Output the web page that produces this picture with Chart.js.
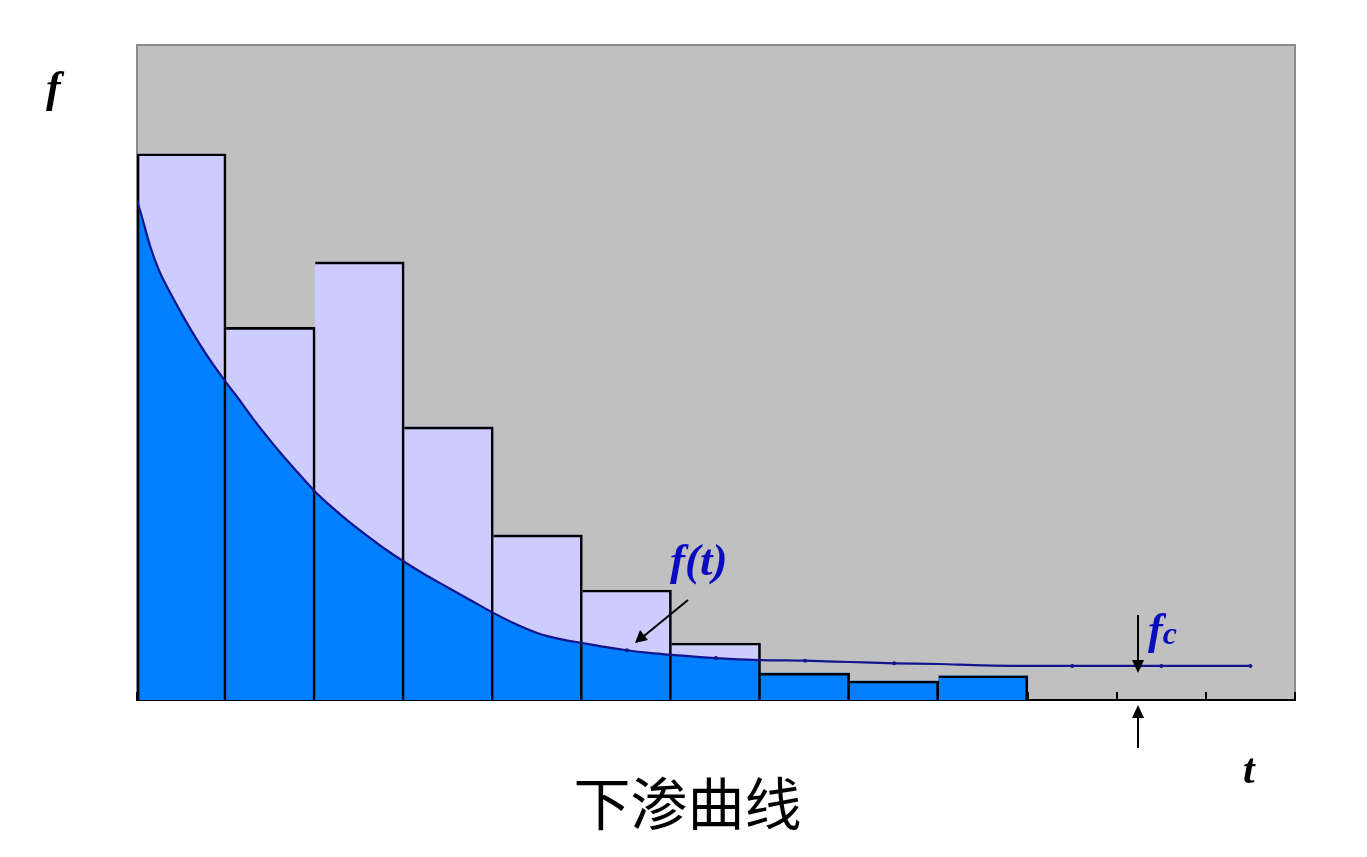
<!DOCTYPE html>
<html>
<head>
<meta charset="utf-8">
<script src="https://cdn.jsdelivr.net/npm/chart.js@4/dist/chart.umd.min.js"></script>
<style>
  body { margin: 0; background: #fff; }
  #wrap { position: relative; width: 1367px; height: 857px; overflow: hidden; }
  #chart { position: absolute; left: 0; top: 0; }
  .lbl { position: absolute; font-family: "Liberation Serif", "DejaVu Serif", serif; font-weight: bold; font-style: italic; line-height: 1; white-space: nowrap; }
  #title { position: absolute; left: 4px; width: 1367px; top: 772px; text-align: center; font-family: "Noto Sans CJK SC", sans-serif; font-size: 57px; line-height: 1; color: #000; }
  svg { position: absolute; left: 0; top: 0; pointer-events: none; }
</style>
</head>
<body>
<div id="wrap">
  <canvas id="chart" width="1367" height="857"></canvas>
  <div class="lbl" style="left:46px; top:66px; font-size:44px; color:#000;">f</div>
  <div class="lbl" style="left:1243px; top:748px; font-size:42px; color:#000;">t</div>
  <div class="lbl" style="left:670px; top:538px; font-size:45px; color:#0a0ac0;">f(t)</div>
  <div class="lbl" style="left:1148px; top:608px; font-size:44px; color:#0a0ac0;">f<span style="font-size:32px;">c</span></div>
  <div id="title">下渗曲线</div>
  <svg width="1367" height="857">
    <line x1="688" y1="600" x2="644" y2="636" stroke="#000" stroke-width="2"/>
    <polygon points="635,643 640,630 648,640" fill="#000"/>
    <line x1="1138" y1="615" x2="1138" y2="662" stroke="#000" stroke-width="2"/>
    <polygon points="1132,660 1144,660 1138,673" fill="#000"/>
    <line x1="1138" y1="716" x2="1138" y2="748" stroke="#000" stroke-width="2"/>
    <polygon points="1132,718 1144,718 1138,705" fill="#000"/>
  </svg>
</div>
<script>
// rainfall intensity per period (bars), t = 0..10
let rainT = [0.5, 1.5, 2.5, 3.5, 4.5, 5.5, 6.5, 7.5, 8.5, 9.5]
let rain = [83.4, 56.9, 66.9, 41.7, 25.2, 16.8, 8.7, 4.1, 2.9, 3.7]

// infiltration capacity curve f(t)
let curveT = [0, 0.05, 0.15, 0.25, 0.4, 0.55, 0.7, 0.85, 1.0, 1.15, 1.3, 1.45, 1.6, 1.8, 2.0, 2.2, 2.4, 2.6, 2.8, 3.0,
  3.25, 3.5, 3.75, 4.0, 4.25, 4.5, 4.75, 5.0, 5.25, 5.5, 5.75, 6.0, 6.5, 7.0, 7.5, 8.0, 8.5, 9.0, 9.5, 10.5, 11.5, 12.5]
let curveF = [76.3, 74.0, 69.2, 65.5, 61.5, 57.8, 54.4, 51.3, 48.5, 45.8, 43.0, 40.4, 37.9, 34.8, 31.8, 29.3, 27.0, 24.9, 22.9, 21.1,
  19.0, 17.1, 15.2, 13.3, 11.6, 10.2, 9.3, 8.7, 8.1, 7.6, 7.2, 6.9, 6.4, 6.1, 6.0, 5.8, 5.6, 5.5, 5.3, 5.2, 5.2, 5.2]
// points drawn with a small marker
let markedT = [5.5, 6.5, 7.5, 8.5, 10.5, 11.5, 12.5]

// period where rain exceeds capacity (blue area follows the curve)
let excessEnd = 7

let rainPts = rainT.map((t, i) => ({x: t, y: rain[i]}))
let curvePts = curveT.map((t, i) => ({x: t, y: curveF[i]}))
let fillPts = curvePts.filter(p => p.x <= excessEnd)

const plotBg = {
    id: 'plotBg',
    beforeDraw(chart){
        const {ctx, chartArea: a} = chart
        ctx.save()
        ctx.fillStyle = '#c0c0c0'
        ctx.fillRect(a.left, a.top, a.right - a.left, a.bottom - a.top)
        ctx.strokeStyle = '#8a8a8a'
        ctx.lineWidth = 2
        ctx.strokeRect(a.left, a.top, a.right - a.left, a.bottom - a.top)
        ctx.restore()
    }
}

new Chart(document.getElementById('chart'), {
    type: 'bar',
    data: {
        datasets: [
            {
                type: 'line',
                label: 'f(t)',
                data: curvePts,
                borderColor: '#14148c',
                borderWidth: 2.2,
                cubicInterpolationMode: 'monotone',
                fill: false,
                pointRadius: curvePts.map(p => markedT.includes(p.x) ? 2 : 0),
                pointBackgroundColor: '#14148c',
                pointBorderWidth: 0,
                order: 0
            },
            {
                label: 'outline',
                data: rainPts,
                backgroundColor: 'rgba(0,0,0,0)',
                borderColor: '#000',
                borderSkipped: false,
                borderWidth: c => ({top: 2, right: 2, bottom: 0, left: c.dataIndex === 0 ? 2 : 0}),
                barPercentage: 1,
                categoryPercentage: 1,
                grouped: false,
                order: 1
            },
            {
                type: 'line',
                label: 'infiltration',
                data: fillPts,
                borderWidth: 0,
                pointRadius: 0,
                fill: 'origin',
                backgroundColor: '#0080ff',
                cubicInterpolationMode: 'monotone',
                order: 2
            },
            {
                label: 'rain',
                data: rainPts,
                backgroundColor: rainT.map(t => t < excessEnd ? '#ccccff' : '#0080ff'),
                borderWidth: 0,
                barPercentage: 1,
                categoryPercentage: 1,
                grouped: false,
                order: 3
            }
        ]
    },
    options: {
        responsive: false,
        animation: false,
        devicePixelRatio: 1,
        layout: { padding: { left: 137, top: 45, right: 72, bottom: 157 } },
        plugins: { legend: { display: false }, tooltip: { enabled: false } },
        scales: {
            x: {
                type: 'linear',
                min: 0,
                max: 13,
                offset: false,
                ticks: { display: false, stepSize: 1 },
                grid: { offset: false, drawOnChartArea: false, drawTicks: true, tickLength: -8, color: '#000', lineWidth: 2 },
                border: { display: true, color: '#000', width: 2 }
            },
            y: {
                display: false,
                min: 0,
                max: 100
            }
        }
    },
    plugins: [plotBg]
})
</script>
</body>
</html>
